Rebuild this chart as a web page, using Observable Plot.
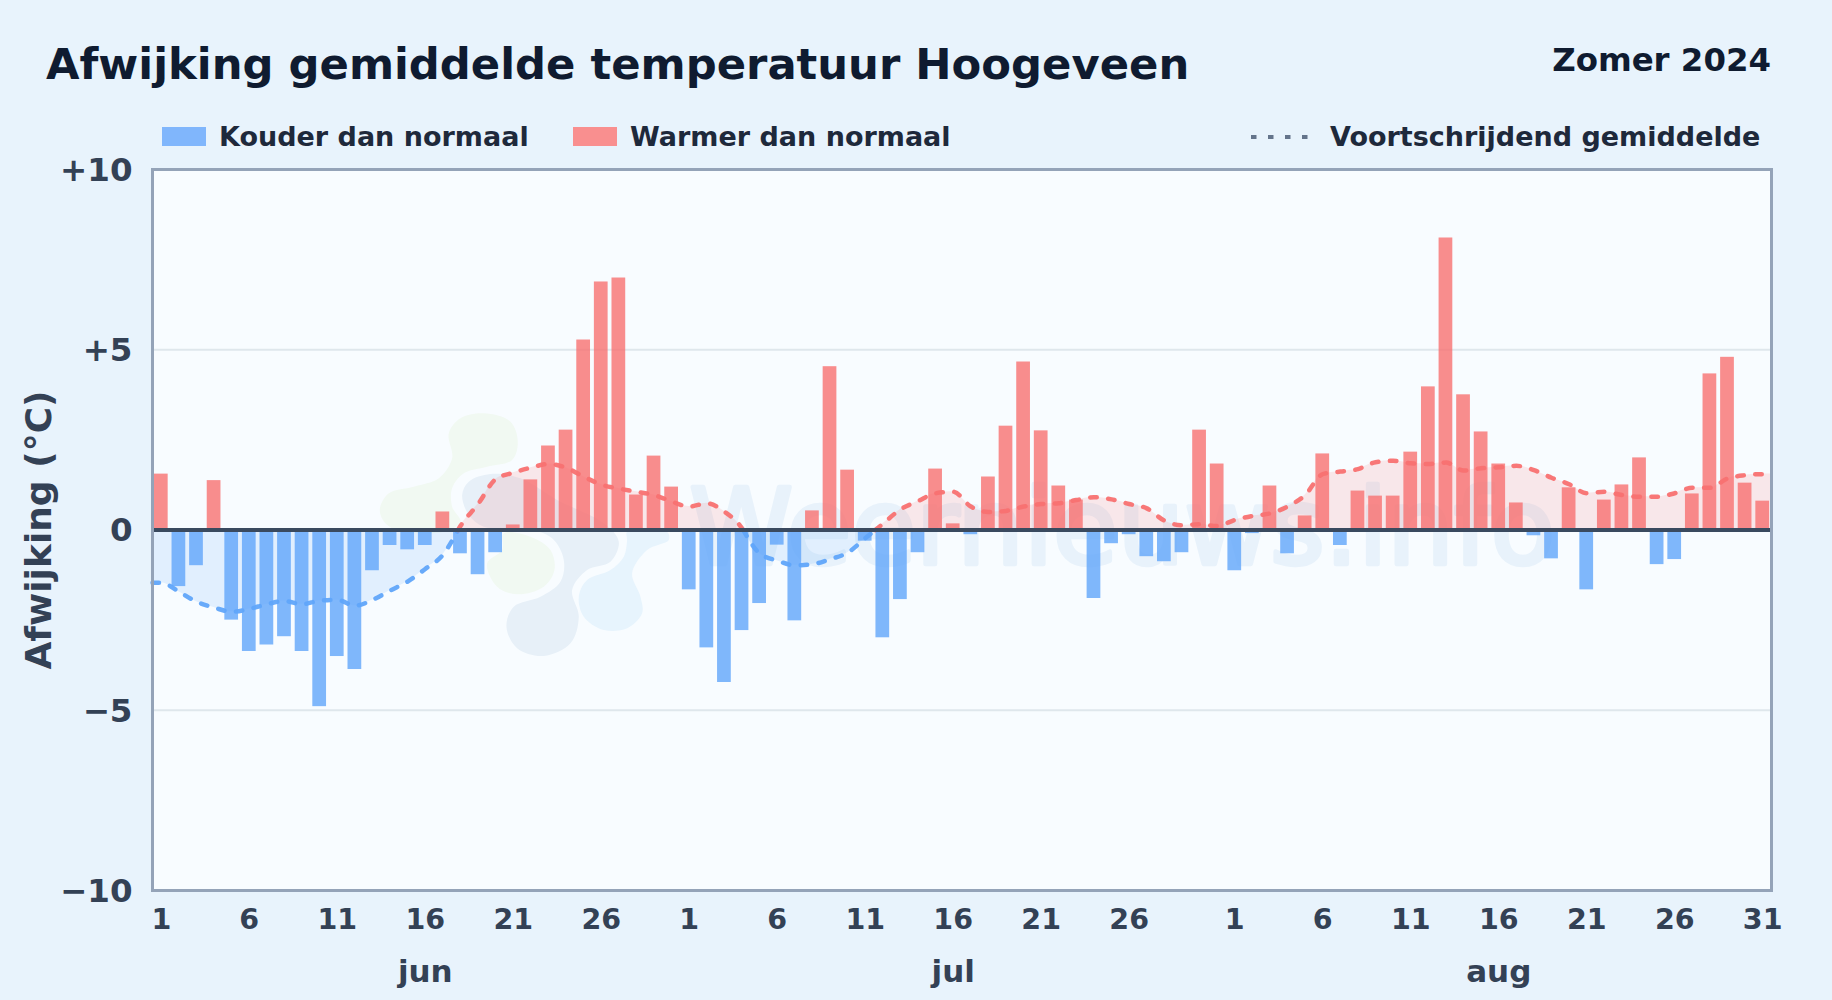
<!DOCTYPE html>
<html lang="nl">
<head>
<meta charset="utf-8">
<title>Afwijking gemiddelde temperatuur Hoogeveen</title>
<script src="https://cdn.jsdelivr.net/npm/d3@7"></script>
<script src="https://cdn.jsdelivr.net/npm/@observablehq/plot@0.6"></script>
<style>
  html, body { margin: 0; padding: 0; background: #e8f3fc; }
  body { width: 1832px; height: 1000px; overflow: hidden; font-family: "DejaVu Sans", sans-serif; font-weight: 700; }
  #header { position: relative; width: 1832px; height: 150px; }
  #header > * { position: absolute; line-height: 1; white-space: nowrap; }
  #title { left: 46px; top: 43px; font-size: 43.3px; color: #0f1b30; }
  #season { right: 61px; top: 43.5px; font-size: 32.4px; color: #0f1b30; }
  .lg { top: 122.5px; font-size: 27px; color: #1e293b; }
  .sw { top: 127px; height: 19px; width: 44px; }
  svg.plot { display: block; }
</style>
</head>
<body>
<div id="header">
  <div id="title">Afwijking gemiddelde temperatuur Hoogeveen</div>
  <div id="season">Zomer 2024</div>
  <div class="sw" style="left:162px;background:#80b6fc"></div>
  <div class="lg" style="left:219px">Kouder dan normaal</div>
  <div class="sw" style="left:573px;background:#f98f8f"></div>
  <div class="lg" style="left:630px">Warmer dan normaal</div>
  <svg style="left:1251px;top:132px" width="60" height="10"><line x1="0" x2="60" y1="5" y2="5" stroke="#64748b" stroke-width="4" stroke-dasharray="5.5,11.5"/></svg>
  <div class="lg" style="left:1330px">Voortschrijdend gemiddelde</div>
</div>
<div id="chart"></div>
<script>
const months = ["jun", "jul", "aug"];
const monthCenterDays = [16, 46, 77];
const yTicks = [-10, -5, 0, 5, 10];
const gridValues = [-5, 5];
const watermarkText = "Weernieuws.info";
const juneTickDays = [1, 6, 11, 16, 21, 26];
const julyTickDays = [1, 6, 11, 16, 21, 26];
const augustTickDays = [1, 6, 11, 16, 21, 26, 31];

const juneDeviation = [1.55,-1.57,-0.99,1.37,-2.5,-3.37,-3.19,-2.96,-3.37,-4.9,-3.51,-3.87,-1.13,-0.43,-0.55,-0.43,0.5,-0.66,-1.24,-0.63,0.14,1.39,2.33,2.77,5.27,6.88,6.99,0.97,2.05,1.19];
const julyDeviation = [-1.66,-3.27,-4.23,-2.79,-2.04,-0.42,-2.52,0.53,4.53,1.66,-0.31,-2.99,-1.93,-0.63,1.69,0.17,-0.13,1.47,2.88,4.66,2.75,1.22,0.83,-1.9,-0.38,-0.13,-0.74,-0.88,-0.63,2.77,1.83];
const augustDeviation = [-1.13,-0.1,1.22,-0.66,0.39,2.11,-0.43,1.08,0.94,0.94,2.16,3.97,8.1,3.75,2.72,1.83,0.75,-0.16,-0.8,1.17,-1.66,0.83,1.25,2.0,-0.96,-0.82,1.0,4.33,4.79,1.3,0.8];

const juneAverage = [-1.46,-1.71,-1.99,-2.15,-2.27,-2.19,-2.06,-1.97,-2.06,-1.96,-1.94,-2.1,-1.94,-1.68,-1.43,-1.08,-0.69,0.11,0.72,1.41,1.59,1.73,1.83,1.73,1.48,1.26,1.15,1.06,0.97,0.79];
const julyAverage = [0.65,0.74,0.51,0.05,-0.65,-0.85,-0.98,-0.95,-0.81,-0.63,-0.23,0.17,0.57,0.8,1.02,1.06,0.65,0.5,0.53,0.65,0.72,0.74,0.83,0.91,0.85,0.72,0.6,0.26,0.13,0.16,0.11];
const augustAverage = [0.28,0.39,0.46,0.65,0.97,1.55,1.62,1.69,1.88,1.92,1.85,1.83,1.87,1.65,1.71,1.74,1.78,1.66,1.45,1.27,1.02,1.06,0.97,0.92,0.92,1.02,1.17,1.17,1.43,1.52,1.55];

// Watermark logo outlines, traced in logo units (origin and scale mapped to chart units below).
const logoGreenTop = [[340,40],[420,65],[442,125],[425,180],[350,200],[280,220],[245,265],[245,320],[270,365],[230,392],[120,398],[50,375],[28,330],[55,280],[130,260],[205,235],[245,175],[235,100],[270,55]];
const logoGreenLow = [[400,400],[480,410],[540,450],[552,510],[520,560],[440,583],[380,560],[350,490],[395,450]];
const logoSlate = [[360,222],[450,235],[560,300],[700,370],[745,425],[720,485],[650,510],[605,570],[625,650],[600,730],[520,768],[440,745],[408,680],[430,620],[510,590],[570,545],[580,480],[545,415],[460,385],[340,380],[295,345],[275,285],[295,245]];
const logoSky = [[770,395],[890,395],[895,420],[830,450],[785,520],[810,590],[815,640],[770,685],[700,690],[640,650],[625,590],[650,540],[720,510],[760,470],[770,420]];

const deviation = [...juneDeviation, ...julyDeviation, ...augustDeviation];
const average = [...juneAverage, ...julyAverage, ...augustAverage];
const days = deviation.map((v, i) => ({day: i + 1, v}));

const tickLabels = new Map();
[[0, juneTickDays], [30, julyTickDays], [61, augustTickDays]].forEach(([start, list]) => {
  list.forEach(d => tickLabels.set(start + d, String(d)));
});
const tickDays = [...tickLabels.keys()];

// Split the moving average at its zero crossings, so each part takes its sign's colour.
const avgPoints = [{day: 0.5, v: average[0]}, ...average.map((v, i) => ({day: i + 1, v})), {day: 92.5, v: average[91]}];
const segments = [];
let cur = [avgPoints[0]];
for (let i = 1; i < avgPoints.length; i++) {
  const a = avgPoints[i - 1], b = avgPoints[i];
  if (a.v * b.v < 0) {
    const z = {day: a.day + (b.day - a.day) * (a.v / (a.v - b.v)), v: 0};
    cur.push(z); segments.push(cur); cur = [z];
  }
  cur.push(b);
}
segments.push(cur);
const segColor = s => d3.mean(s, d => d.v) < 0 ? "#60a5fa" : "#f87171";

const logoPoint = ([a, b]) => ({day: 12.886 + a * 0.01894, v: 3.606 - b * 0.009246});
const logoShape = (pts, fill) => Plot.line(pts.map(logoPoint), {x: "day", y: "v", curve: "catmull-rom-closed", fill, stroke: "none"});

const barHalf = 0.39;
const plot = Plot.plot({
  width: 1832, height: 850,
  marginLeft: 152, marginRight: 61, marginTop: 19, marginBottom: 110,
  style: {background: "transparent", fontFamily: "DejaVu Sans", fontWeight: 700, overflow: "visible"},
  x: {domain: [0.5, 92.5]},
  y: {domain: [-10, 10]},
  marks: [
    Plot.frame({fill: "#f8fcff", stroke: "none"}),
    logoShape(logoGreenTop, "#f1f9f2"),
    logoShape(logoGreenLow, "#f1f9f2"),
    logoShape(logoSlate, "#e7f0f8"),
    logoShape(logoSky, "#e7f4fd"),
    Plot.text([{day: 55.6, v: 0}], {x: "day", y: "v", text: () => watermarkText, fontSize: 105, fontWeight: 400, fill: "#e8f2fb", stroke: "#e8f2fb", strokeWidth: 4.5, dy: 0, lineAnchor: "middle"}),
    Plot.ruleY(gridValues, {stroke: "#dfe7ec", strokeWidth: 2}),
    ...segments.map(s => Plot.areaY(s, {x: "day", y1: 0, y2: "v", curve: "monotone-x", fill: segColor(s), fillOpacity: 0.15})),
    Plot.rect(days, {x1: d => d.day - barHalf, x2: d => d.day + barHalf, y1: 0, y2: "v", fill: d => d.v < 0 ? "#60a5fa" : "#f87171", fillOpacity: 0.8}),
    ...segments.map(s => Plot.line(s, {x: "day", y: "v", curve: "monotone-x", stroke: segColor(s), strokeWidth: 4.5, strokeDasharray: "6.5,11.5", strokeLinecap: "round", strokeOpacity: 0.95})),
    Plot.ruleY([0], {stroke: "#3a4a5f", strokeWidth: 4}),
    Plot.frame({stroke: "#94a3b8", strokeWidth: 3}),
    Plot.axisY({ticks: yTicks, tickSize: 0, tickPadding: 20, fontSize: 32.5, fontWeight: 700, fill: "#334155", dy: 1,
      tickFormat: d => d > 0 ? `+${d}` : d < 0 ? `\u2212${-d}` : "0", label: null}),
    Plot.text(["Afwijking (°C)"], {frameAnchor: "left", rotate: -90, dx: -113, fontSize: 36, fontWeight: 700, fill: "#334155", lineAnchor: "middle", textAnchor: "middle"}),
    Plot.axisX({ticks: tickDays, tickSize: 0, tickPadding: 18, fontSize: 28.5, fontWeight: 700, fill: "#334155",
      tickFormat: d => tickLabels.get(d), label: null}),
    Plot.axisX({ticks: monthCenterDays, tickSize: 0, tickPadding: 69, fontSize: 31, fontWeight: 700, fill: "#334155",
      tickFormat: d => months[monthCenterDays.indexOf(d)], label: null})
  ]
});
document.getElementById("chart").appendChild(plot);
</script>
</body>
</html>
